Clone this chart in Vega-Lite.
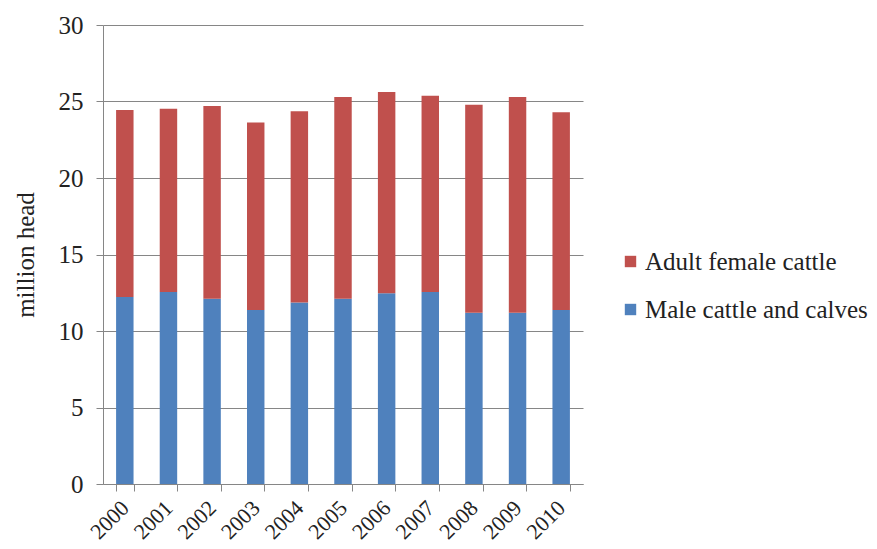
{
  "$schema": "https://vega.github.io/schema/vega-lite/v6.json",
  "width": 480,
  "height": 459,
  "autosize": "none",
  "padding": {"left": 103, "top": 25, "right": 294, "bottom": 65},
  "background": "white",
  "config": {
    "view": {"stroke": null},
    "font": "Liberation Serif, DejaVu Serif, serif",
    "axis": {"labelFont": "Liberation Serif, DejaVu Serif, serif", "titleFont": "Liberation Serif, DejaVu Serif, serif"},
    "legend": {"labelFont": "Liberation Serif, DejaVu Serif, serif"}
  },
  "data": {
    "values": [
      {"year": "2000", "series": "Male cattle and calves", "value": 12.22},
      {"year": "2001", "series": "Male cattle and calves", "value": 12.55},
      {"year": "2002", "series": "Male cattle and calves", "value": 12.11},
      {"year": "2003", "series": "Male cattle and calves", "value": 11.37},
      {"year": "2004", "series": "Male cattle and calves", "value": 11.87},
      {"year": "2005", "series": "Male cattle and calves", "value": 12.11},
      {"year": "2006", "series": "Male cattle and calves", "value": 12.46},
      {"year": "2007", "series": "Male cattle and calves", "value": 12.55},
      {"year": "2008", "series": "Male cattle and calves", "value": 11.2},
      {"year": "2009", "series": "Male cattle and calves", "value": 11.2},
      {"year": "2010", "series": "Male cattle and calves", "value": 11.37},
      {"year": "2000", "series": "Adult female cattle", "value": 12.22},
      {"year": "2001", "series": "Adult female cattle", "value": 11.98},
      {"year": "2002", "series": "Adult female cattle", "value": 12.6},
      {"year": "2003", "series": "Adult female cattle", "value": 12.25},
      {"year": "2004", "series": "Adult female cattle", "value": 12.49},
      {"year": "2005", "series": "Adult female cattle", "value": 13.18},
      {"year": "2006", "series": "Adult female cattle", "value": 13.16},
      {"year": "2007", "series": "Adult female cattle", "value": 12.83},
      {"year": "2008", "series": "Adult female cattle", "value": 13.59},
      {"year": "2009", "series": "Adult female cattle", "value": 14.09},
      {"year": "2010", "series": "Adult female cattle", "value": 12.92}
    ]
  },
  "mark": {"type": "bar"},
  "encoding": {
    "x": {
      "field": "year",
      "type": "nominal",
      "scale": {"paddingInner": 0.6, "paddingOuter": 0.3},
      "axis": {
        "title": null,
        "labelAngle": -45,
        "labelAlign": "right",
        "labelBaseline": "middle",
        "labelFontSize": 22,
        "labelColor": "#222222",
        "labelPadding": 13,
        "labelOverlap": false,
        "tickBand": "extent",
        "tickSize": 7,
        "tickColor": "#868686",
        "domainColor": "#868686",
        "grid": false
      }
    },
    "y": {
      "field": "value",
      "type": "quantitative",
      "stack": "zero",
      "scale": {"domain": [0, 30], "nice": false},
      "axis": {
        "title": "million head",
        "titleFontSize": 25,
        "titleFontWeight": "normal",
        "titleColor": "#222222",
        "titlePadding": 20,
        "values": [0, 5, 10, 15, 20, 25, 30],
        "labelFontSize": 25,
        "labelColor": "#222222",
        "labelPadding": 13,
        "tickSize": 7,
        "tickColor": "#868686",
        "domainColor": "#868686",
        "gridColor": "#868686",
        "gridWidth": 1
      }
    },
    "color": {
      "field": "series",
      "type": "nominal",
      "scale": {
        "domain": ["Adult female cattle", "Male cattle and calves"],
        "range": ["#C0504D", "#4F81BD"]
      },
      "legend": {
        "title": null,
        "orient": "none",
        "legendX": 515,
        "legendY": 224,
        "symbolType": "square",
        "symbolSize": 130,
        "symbolStrokeWidth": 0,
        "labelFontSize": 25,
        "labelColor": "#222222",
        "labelOffset": 2,
        "rowPadding": 22,
        "labelLimit": 400
      }
    },
    "order": {"field": "series", "sort": "descending"}
  }
}
